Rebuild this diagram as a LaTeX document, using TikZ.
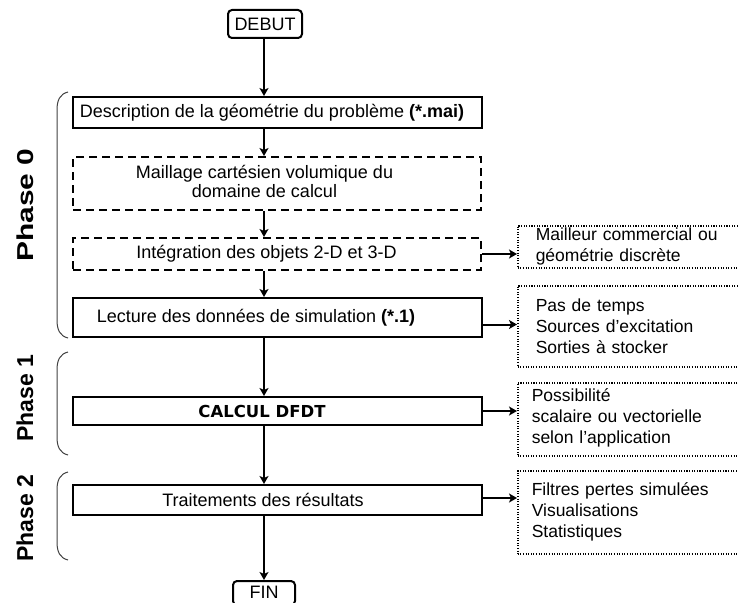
\documentclass[tikz,border=0pt]{standalone}
\usepackage{graphicx}
\usepackage{fontspec}
\setmainfont{Liberation Sans}
\newfontfamily\calcfont{DejaVu Sans}
\usetikzlibrary{arrows.meta}
\begin{document}
\begin{tikzpicture}[x=1pt,y=-1pt,
  txt/.style={font=\fontsize{18}{20}\selectfont},
  stxt/.style={font=\fontsize{17.5}{21}\selectfont},
  mainbox/.style={draw, line width=2pt, minimum width=409pt, inner sep=0pt, txt},
  dashbox/.style={draw, line width=2pt, dash pattern=on 8pt off 5pt, minimum width=408pt, inner sep=0pt, txt},
  endbox/.style={draw, line width=2pt, rounded corners=4pt, inner sep=0pt, txt},
  dotbox/.style={draw, line width=1.5pt, dash pattern=on 1.1pt off 1.5pt, anchor=north west,
     minimum width=228pt, text width=200pt, align=left, inner ysep=0pt, stxt},
  arr/.style={line width=2pt, -{Stealth[length=8pt,width=9pt,inset=2pt]}},
  brace/.style={line width=1pt, draw=black!75},
  phase/.style={rotate=90, font=\bfseries\fontsize{23}{23}\selectfont}]
\useasboundingbox (0,0) rectangle (738,602);
\clip (0,0) rectangle (738,602);
% start / end
\node[endbox, minimum width=74pt, minimum height=28pt] (debut) at (265,24) {DEBUT};
\node[endbox, minimum width=62pt, minimum height=24pt] (fin) at (264,593) {\raisebox{2pt}{FIN}};
% main chain
\node[mainbox, minimum height=31pt] (desc) at (277.5,112.5)
  {Description de la géométrie du problème \textbf{(*.mai)}\hspace*{11pt}};
\node[dashbox, minimum height=53pt] (mail) at (277,183.5)
  {\begin{tabular}{@{}c@{}}Maillage cartésien volumique du\\[-1pt] domaine de calcul\end{tabular}\hspace*{25pt}};
\node[dashbox, minimum height=32pt] (integ) at (277,254)
  {Intégration des objets 2-D et 3-D\hspace*{21pt}};
\node[mainbox, minimum height=39pt] (lect) at (277.5,317.5)
  {\raisebox{-4pt}{Lecture des données de simulation \textbf{(*.1)}}\hspace*{43pt}};
\node[mainbox, minimum height=28pt] (calc) at (277.5,411)
  {{\calcfont\bfseries\fontsize{16.5}{18}\selectfont CALCUL DFDT}\hspace*{31pt}};
\node[mainbox, minimum height=30pt] (trait) at (277.5,500)
  {Traitements des résultats\hspace*{29pt}};
% side boxes
\node[dotbox, minimum height=42pt, inner xsep=18pt] (b1) at (517,225)
  {Mailleur commercial ou\\géométrie discrète};
\node[dotbox, minimum height=81pt, inner xsep=18pt] (b2) at (517,285)
  {Pas de temps\\Sources d'excitation\\Sorties à stocker};
\node[dotbox, minimum height=73pt, inner xsep=10pt] (b3) at (517,382)
  {\raisebox{6pt}{Possibilité}\\\raisebox{6pt}{scalaire ou vectorielle}\\\raisebox{6pt}{selon l'application}};
\node[dotbox, minimum height=83pt, inner xsep=10pt] (b4) at (517,470)
  {Filtres pertes simulées\\Visualisations\\Statistiques};
% trunk arrows
\draw[arr] (debut.south -| 264,0) -- (desc.north -| 264,0);
\draw[arr] (desc.south -| 264,0) -- (mail.north -| 264,0);
\draw[arr] (mail.south -| 264,0) -- (integ.north -| 264,0);
\draw[arr] (integ.south -| 264,0) -- (lect.north -| 264,0);
\draw[arr] (lect.south -| 264,0) -- (calc.north -| 264,0);
\draw[arr] (calc.south -| 264,0) -- (trait.north -| 264,0);
\draw[arr] (trait.south -| 264,0) -- (fin.north);
% side arrows
\draw[arr] (integ.east) -- (integ.east -| b1.west);
\draw[arr] ([yshift=-7pt]lect.east) -- ([yshift=-7pt]lect.east -| b2.west);
\draw[arr] (calc.east) -- (calc.east -| b3.west);
\draw[arr] ([yshift=2pt]trait.east) -- ([yshift=2pt]trait.east -| b4.west);
% braces
\draw[brace] (68,92) .. controls (60,94) and (57,100) .. (57,110) -- (57,320) .. controls (57,330) and (60,336) .. (68,338);
\draw[brace] (68,352) .. controls (60,354) and (57,360) .. (57,370) -- (57,437) .. controls (57,447) and (60,453) .. (68,455);
\draw[brace] (68,472) .. controls (60,474) and (57,480) .. (57,490) -- (57,542) .. controls (57,552) and (60,558) .. (68,560);
% phase labels
\node[phase] (p0) at (25,205) {\scalebox{1.3}[1]{Phase 0}};
\node[phase] (p1) at (25,398) {Phase 1};
\node[phase] (p2) at (25,518) {Phase 2};
\end{tikzpicture}
\end{document}
